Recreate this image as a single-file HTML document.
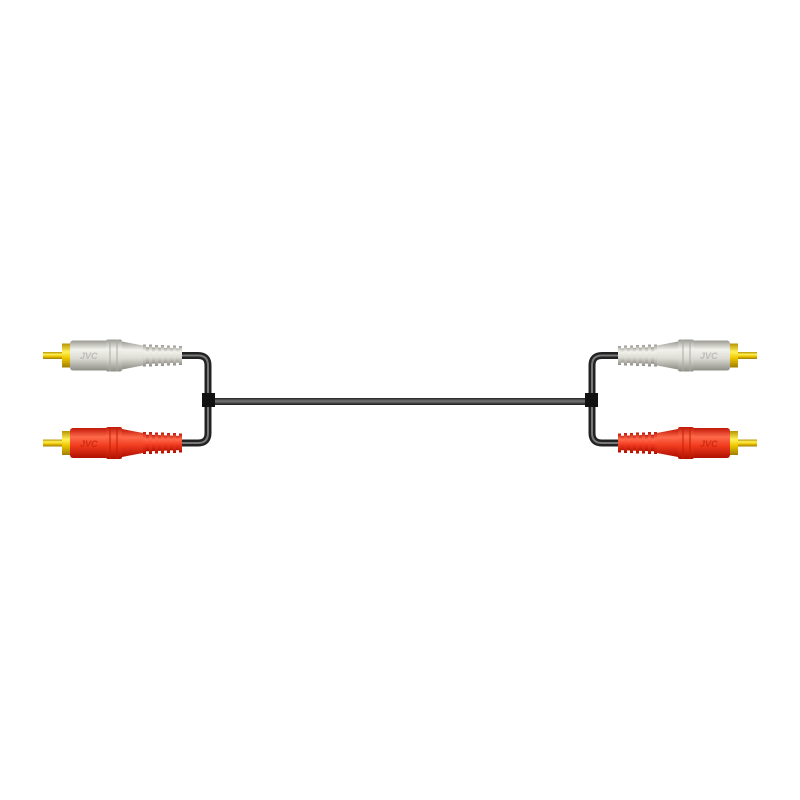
<!DOCTYPE html>
<html><head><style>html,body{margin:0;padding:0;background:#fff}svg{display:block}</style></head>
<body>
<svg width="800" height="800" viewBox="0 0 800 800" xmlns="http://www.w3.org/2000/svg">
<defs>
<linearGradient id="gold" x1="0" y1="0" x2="0" y2="1">
<stop offset="0" stop-color="#b89400"/><stop offset="0.35" stop-color="#fff25a"/><stop offset="0.6" stop-color="#f0c800"/><stop offset="1" stop-color="#a07d00"/></linearGradient>
<linearGradient id="wht" x1="0" y1="0" x2="0" y2="1">
<stop offset="0" stop-color="#9a9a92"/><stop offset="0.3" stop-color="#f2f2ec"/><stop offset="0.6" stop-color="#dcdcd4"/><stop offset="1" stop-color="#8e8e86"/></linearGradient>
<linearGradient id="red" x1="0" y1="0" x2="0" y2="1">
<stop offset="0" stop-color="#c01808"/><stop offset="0.3" stop-color="#ff6a4a"/><stop offset="0.6" stop-color="#f03a1e"/><stop offset="1" stop-color="#b01000"/></linearGradient>
<linearGradient id="cabH" x1="0" y1="0" x2="0" y2="1">
<stop offset="0" stop-color="#222"/><stop offset="0.45" stop-color="#777"/><stop offset="1" stop-color="#1a1a1a"/></linearGradient>
<g id="ridges">
<rect x="143" y="-11" width="3" height="22"/><rect x="149" y="-11" width="3" height="22"/><rect x="155" y="-10.5" width="3" height="21"/><rect x="161" y="-10.5" width="3" height="21"/><rect x="167" y="-10" width="3" height="20"/><rect x="173" y="-10" width="3" height="20"/><rect x="179" y="-9.5" width="3" height="19"/>
</g>
<g id="plugW">
<rect x="43" y="-3.5" width="22" height="7" fill="url(#gold)"/>
<rect x="62" y="-12" width="9" height="24" fill="url(#gold)"/>
<rect x="70" y="-15" width="40" height="30" rx="3" fill="url(#wht)"/>
<rect x="106" y="-16" width="16" height="32" rx="2" fill="url(#wht)"/>
<line x1="110" y1="-16" x2="110" y2="16" stroke="#aaa" stroke-width="1"/>
<line x1="117" y1="-16" x2="117" y2="16" stroke="#aaa" stroke-width="1"/>
<path d="M122,-14 L143,-10 L143,10 L122,14 Z" fill="url(#wht)"/>
<path d="M143,-8.5 L182,-7 L182,7 L143,8.5 Z" fill="url(#wht)"/>
<use href="#ridges" fill="url(#wht)"/>
</g>
<g id="plugR">
<rect x="43" y="-3.5" width="22" height="7" fill="url(#gold)"/>
<rect x="62" y="-12" width="9" height="24" fill="url(#gold)"/>
<rect x="70" y="-15" width="40" height="30" rx="3" fill="url(#red)"/>
<rect x="106" y="-16" width="16" height="32" rx="2" fill="url(#red)"/>
<line x1="110" y1="-16" x2="110" y2="16" stroke="#c02000" stroke-width="1"/>
<line x1="117" y1="-16" x2="117" y2="16" stroke="#c02000" stroke-width="1"/>
<path d="M122,-14 L143,-10 L143,10 L122,14 Z" fill="url(#red)"/>
<path d="M143,-8.5 L182,-7 L182,7 L143,8.5 Z" fill="url(#red)"/>
<use href="#ridges" fill="url(#red)"/>
</g>
<g id="side">
<path d="M180,355.5 H198 Q208,355.5 208,365.5 V433 Q208,443 198,443 H180" fill="none" stroke="#222" stroke-width="7"/>
<path d="M180,355.5 H198 Q208,355.5 208,365.5 V433 Q208,443 198,443 H180" fill="none" stroke="#777" stroke-width="2"/>
<use href="#plugW" transform="translate(0,355.5)"/>
<use href="#plugR" transform="translate(0,443)"/>
</g>
</defs>
<rect x="208" y="398" width="384" height="7" fill="url(#cabH)"/>
<use href="#side"/>
<use href="#side" transform="translate(800,0) scale(-1,1)"/>
<rect x="202" y="393" width="13" height="14" fill="#111"/>
<rect x="585" y="393" width="13" height="14" fill="#111"/>
<g font-family="Liberation Sans, sans-serif" font-weight="bold" font-style="italic" font-size="9" fill="#bbb">
<text x="80" y="359">JVC</text>
<text x="700" y="359">JVC</text>
</g>
<g font-family="Liberation Sans, sans-serif" font-weight="bold" font-style="italic" font-size="9" fill="#d02a10">
<text x="80" y="447">JVC</text>
<text x="700" y="447">JVC</text>
</g>
</svg>
</body></html>
